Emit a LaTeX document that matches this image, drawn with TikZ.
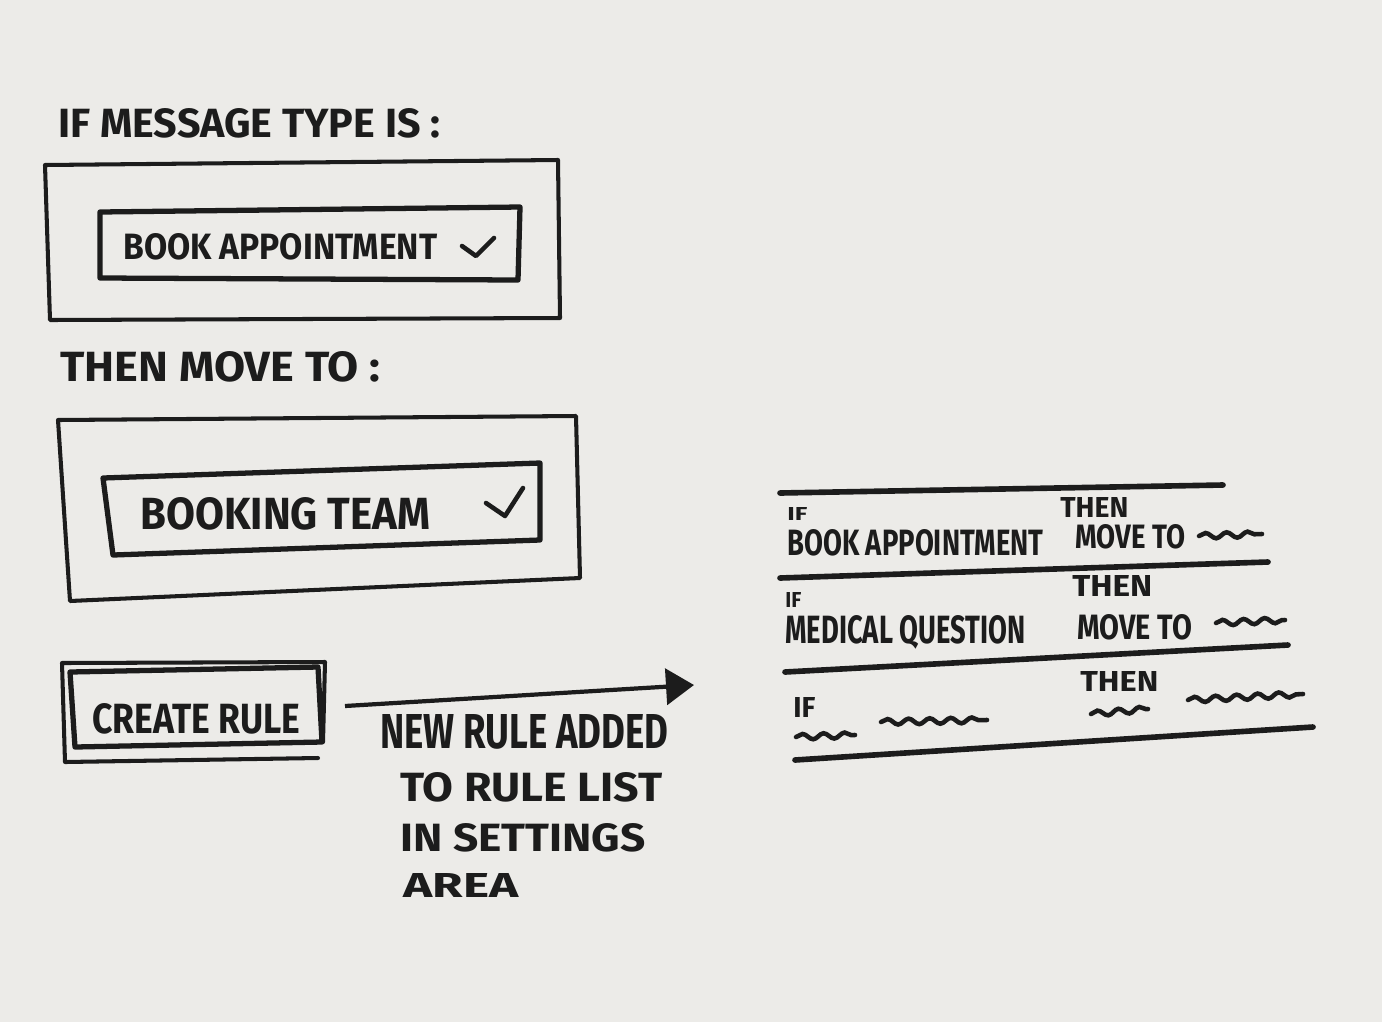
\documentclass[tikz,border=0pt]{standalone}
\usepackage{fontspec}
\setmainfont{Fira Sans}
\usetikzlibrary{arrows.meta,decorations.pathmorphing}
\definecolor{paper}{HTML}{ECEBE8}
\definecolor{ink}{HTML}{1C1C1C}
\newlength\pxu
\setlength\pxu{0.02cm}
\newcommand\hw[3]{\resizebox{#1\pxu}{#2\pxu}{\bfseries #3}}
\tikzset{
  txt/.style={anchor=base west, inner sep=0pt, text=ink},
  boxline/.style={draw=ink, line width=2.3pt, line join=round, line cap=round},
  thickbox/.style={draw=ink, line width=3pt, line join=round, line cap=round},
  rowline/.style={draw=ink, line width=3.2pt, line cap=round},
  squig/.style={draw=ink, line width=2.6pt, line cap=round, decorate,
    decoration={snake, amplitude=1.6pt, segment length=12pt}},
  tick/.style={draw=ink, line width=2.6pt, line cap=round, line join=round}
}
\begin{document}
\begin{tikzpicture}[x=0.02cm,y=-0.02cm]
\fill[paper] (0,0) rectangle (1382,1022);
\useasboundingbox (0,0) rectangle (1382,1022);

% --- condition block ---
\node[txt] (title1) at (58,137) {\hw{382}{29}{IF MESSAGE TYPE IS :}};
\draw[boxline] (45,165) -- (558,160) -- (560,318) -- (50,320) -- cycle;
\draw[thickbox] (100,212) -- (520,207) -- (518,280) -- (100,278) -- cycle;
\node[txt] (opt1) at (123,259) {\hw{314}{26}{BOOK APPOINTMENT}};
\draw[tick] (462,246) -- (476,256) -- (494,238);

% --- action block ---
\node[txt] (title2) at (60,381) {\hw{320}{30}{THEN MOVE TO :}};
\draw[boxline] (58,420) -- (576,416) -- (580,578) -- (70,601) -- cycle;
\draw[thickbox] (103,478) -- (540,463) -- (540,540) -- (113,555) -- cycle;
\node[txt] (opt2) at (140,529) {\hw{290}{32}{BOOKING TEAM}};
\draw[tick] (486,503) -- (505,516) -- (523,488);

% --- create rule button ---
\draw[boxline] (318,758) -- (65,762) -- (62,663) -- (325,662) -- (323,742);
\draw[thickbox] (70,672) -- (318,667) -- (322,742) -- (75,747) -- cycle;
\node[txt] (btn) at (92,733) {\hw{208}{30}{CREATE RULE}};

% --- arrow ---
\coordinate (arrS) at (345,706);
\coordinate (arrE) at (694,685);
\draw[draw=ink, line width=2.4pt, -{Triangle[length=0.56cm,width=0.72cm]}] (arrS) -- (arrE);

\node[txt] (n1) at (380,748) {\hw{288}{34}{NEW RULE ADDED}};
\node[txt] (n2) at (400,801) {\hw{262}{29}{TO RULE LIST}};
\node[txt] (n3) at (400,851) {\hw{245}{28}{IN SETTINGS}};
\node[txt] (n4) at (403,897) {\hw{115}{24}{AREA}};

% --- rule list ---
\draw[rowline] (780,493) -- (1223,485);
\draw[rowline] (780,578) -- (1268,562);
\draw[rowline] (785,672) -- (1288,645);
\draw[rowline] (795,760) -- (1313,727);

% row 1
\node[txt] (r1if) at (787,520) {\hw{20}{13}{IF}};
\node[txt] (r1c) at (787,555) {\hw{256}{26}{BOOK APPOINTMENT}};
\node[txt] (r1t) at (1060,517) {\hw{68}{20}{THEN}};
\node[txt] (r1m) at (1075,548) {\hw{110}{24}{MOVE TO}};
\draw[squig] (1199,536) -- (1262,534);

% row 2
\node[txt] (r2if) at (785,607) {\hw{16}{15}{IF}};
\node[txt] (r2c) at (785,643) {\hw{240}{28}{MEDICAL QUESTION}};
\node[txt] (r2t) at (1072,596) {\hw{80}{21}{THEN}};
\node[txt] (r2m) at (1077,639) {\hw{115}{25}{MOVE TO}};
\draw[squig] (1216,623) -- (1285,620);

% row 3
\node[txt] (r3if) at (793,717) {\hw{22}{20}{IF}};
\node[txt] (r3t) at (1080,691) {\hw{78}{20}{THEN}};
\draw[squig] (796,737) -- (855,735);
\draw[squig] (881,722) -- (987,720);
\draw[squig] (1091,714) -- (1148,709);
\draw[squig] (1188,700) -- (1303,694);
\end{tikzpicture}
\end{document}
